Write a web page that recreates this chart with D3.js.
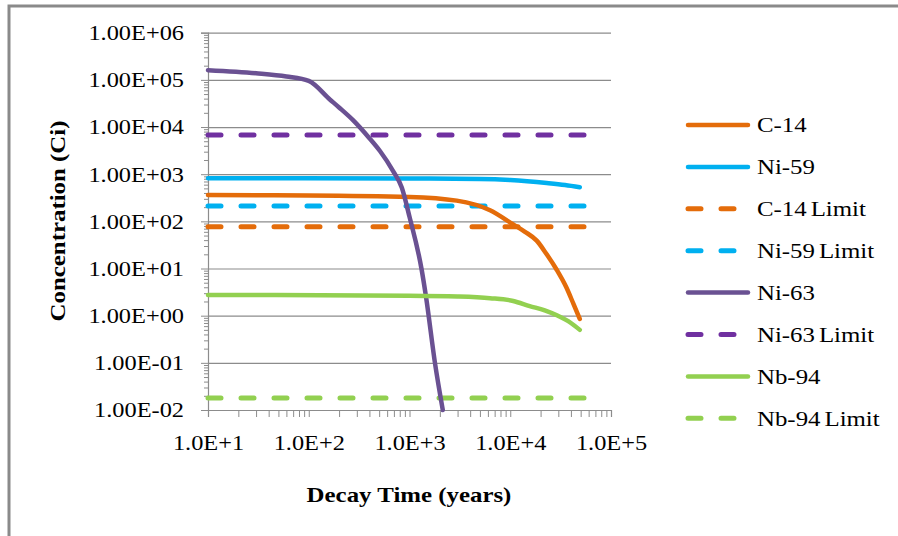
<!DOCTYPE html>
<html>
<head>
<meta charset="utf-8">
<script src="https://cdn.jsdelivr.net/npm/d3@7"></script>
<style>
  html, body { margin: 0; padding: 0; background: #fff; }
  svg { display: block; }
  text { font-family: "Liberation Serif", "Times New Roman", serif; fill: #000; }
</style>
</head>
<body>
<div id="chart"></div>
<script>
// decay curves (years, Ci)
const c14Years = [10, 100, 1000, 2940, 6300, 10700, 14000, 18300, 23000, 29000, 36000, 42300, 49000];
const c14Values = [360, 355, 330, 275, 172, 86, 60, 39, 20, 9.3, 4, 1.8, 0.85];

const ni59Years = [10, 1000, 5000, 10000, 23000, 35000, 49000];
const ni59Values = [820, 810, 790, 750, 650, 590, 530];

const ni63Years = [10, 30, 60, 100, 163, 200, 275, 400, 509, 690, 838, 1000, 1322, 1459, 1791, 2140];
const ni63Values = [160000, 138000, 118000, 95000, 38000, 26000, 14000, 5800, 3100, 1150, 520, 125, 9.3, 2.5, 0.098, 0.01];

const nb94Years = [10, 1000, 3000, 6300, 10700, 15600, 22000, 29000, 40000, 49000];
const nb94Values = [2.75, 2.65, 2.55, 2.35, 2.05, 1.6, 1.3, 1.02, 0.7, 0.5];

// regulatory limits, drawn as flat dashed lines
const limitYears = [10, 65000];
const c14Limit = 77;
const ni59Limit = 212;
const ni63Limit = 6800;
const nb94Limit = 0.018;

const xTicks = [1e1, 1e2, 1e3, 1e4, 1e5];
const xTickLabels = ['1.0E+1', '1.0E+2', '1.0E+3', '1.0E+4', '1.0E+5'];
const yTicks = [1e-2, 1e-1, 1e0, 1e1, 1e2, 1e3, 1e4, 1e5, 1e6];
const yTickLabels = ['1.00E-02', '1.00E-01', '1.00E+00', '1.00E+01', '1.00E+02',
                     '1.00E+03', '1.00E+04', '1.00E+05', '1.00E+06'];

const legendNames = ['C-14', 'Ni-59', 'C-14 Limit', 'Ni-59 Limit', 'Ni-63', 'Ni-63 Limit', 'Nb-94', 'Nb-94 Limit'];

const width = 898;
const height = 536;
const stretch = 1.13;
const tickStretch = 1.16;

const svg = d3.select('#chart').append('svg')
    .attr('width', width)
    .attr('height', height);

svg.append('rect').attr('width', width).attr('height', height).attr('fill', '#fff');
svg.append('rect')
    .attr('x', 9).attr('y', 6)
    .attr('width', 1000).attr('height', 1000)
    .attr('fill', 'none')
    .attr('stroke', '#8a8a8a')
    .attr('stroke-width', 3);

const x = d3.scaleLog().domain([10, 1e5]).range([208, 611]);
const y = d3.scaleLog().domain([0.01, 1e6]).range([410, 32.7]);

const minorOf = domain => {
    const out = [];
    for (let p = Math.log10(domain[0]); p < Math.log10(domain[1]); p++) {
        for (let m = 2; m <= 9; m++) out.push(m * Math.pow(10, p));
    }
    return out;
};

// gridlines
const grid = svg.append('g')
    .attr('transform', `translate(${x.range()[0]},0)`)
    .call(d3.axisLeft(y).tickValues(yTicks).tickSize(-(x.range()[1] - x.range()[0])).tickFormat(''));
grid.select('.domain').remove();
grid.selectAll('line').attr('stroke', '#8c8c8c').attr('stroke-width', 1.2);

// y axis
const yMinor = svg.append('g')
    .attr('transform', `translate(${x.range()[0]},0)`)
    .call(d3.axisLeft(y).tickValues(minorOf(y.domain())).tickSize(4).tickFormat(''));
yMinor.select('.domain').remove();
yMinor.selectAll('line').attr('stroke', '#8c8c8c');

const yAxis = svg.append('g')
    .attr('transform', `translate(${x.range()[0]},0)`)
    .call(d3.axisLeft(y).tickValues(yTicks).tickSize(7)
        .tickFormat((d, i) => yTickLabels[i]));
yAxis.select('.domain').attr('stroke', '#8c8c8c').attr('stroke-width', 1.2);
yAxis.selectAll('line').attr('stroke', '#8c8c8c');
yAxis.selectAll('text')
    .attr('x', -24 / tickStretch)
    .attr('dy', '0.33em')
    .attr('transform', `scale(${tickStretch},1)`)
    .style('font-family', '"Liberation Serif", serif')
    .style('font-size', '21px');

// x axis
const xMinor = svg.append('g')
    .attr('transform', `translate(0,${y.range()[0]})`)
    .call(d3.axisBottom(x).tickValues(minorOf(x.domain())).tickSize(7).tickFormat(''));
xMinor.select('.domain').remove();
xMinor.selectAll('line').attr('stroke', '#8c8c8c');

const xAxis = svg.append('g')
    .attr('transform', `translate(0,${y.range()[0]})`)
    .call(d3.axisBottom(x).tickValues(xTicks).tickSize(7)
        .tickFormat((d, i) => xTickLabels[i]));
xAxis.select('.domain').attr('stroke', '#8c8c8c').attr('stroke-width', 1.2);
xAxis.selectAll('line').attr('stroke', '#8c8c8c');
xAxis.selectAll('text')
    .attr('x', 0)
    .attr('y', 40)
    .attr('dy', 0)
    .attr('transform', `scale(${tickStretch},1)`)
    .style('font-family', '"Liberation Serif", serif')
    .style('font-size', '21px');

// series
const line = d3.line()
    .x(d => x(d[0]))
    .y(d => y(d[1]))
    .curve(d3.curveMonotoneX);

const solidSeries = [
    { name: 'C-14', years: c14Years, values: c14Values, color: '#e46c0a' },
    { name: 'Ni-59', years: ni59Years, values: ni59Values, color: '#00b0f0' },
    { name: 'Ni-63', years: ni63Years, values: ni63Values, color: '#6a5192' },
    { name: 'Nb-94', years: nb94Years, values: nb94Values, color: '#92d050' }
];
const limitSeries = [
    { name: 'C-14 Limit', value: c14Limit, color: '#e46c0a' },
    { name: 'Ni-59 Limit', value: ni59Limit, color: '#00b0f0' },
    { name: 'Ni-63 Limit', value: ni63Limit, color: '#7030a0' },
    { name: 'Nb-94 Limit', value: nb94Limit, color: '#92d050' }
];

svg.selectAll('path.limit')
    .data(limitSeries)
    .enter()
    .append('path')
    .attr('class', 'limit')
    .attr('d', d => line(limitYears.map(t => [t, d.value])))
    .attr('fill', 'none')
    .attr('stroke', d => d.color)
    .attr('stroke-width', 5)
    .attr('stroke-linecap', 'round')
    .attr('stroke-dasharray', '13,20');

svg.selectAll('path.series')
    .data(solidSeries)
    .enter()
    .append('path')
    .attr('class', 'series')
    .attr('d', d => line(d.years.map((t, i) => [t, d.values[i]])))
    .attr('fill', 'none')
    .attr('stroke', d => d.color)
    .attr('stroke-width', 4.5)
    .attr('stroke-linejoin', 'round')
    .attr('stroke-linecap', 'round');

// legend
const allSeries = solidSeries.concat(limitSeries);
const rows = svg.append('g').selectAll('g')
    .data(legendNames)
    .enter()
    .append('g')
    .attr('transform', (d, i) => `translate(688,${125 + i * 41.9})`);

rows.append('line')
    .attr('x1', 0).attr('x2', 60)
    .attr('stroke', d => allSeries.find(s => s.name === d).color)
    .attr('stroke-width', d => d.includes('Limit') ? 5 : 4.5)
    .attr('stroke-linecap', 'round')
    .attr('stroke-dasharray', d => d.includes('Limit') ? '13,20' : null);

rows.append('text')
    .attr('x', 69 / stretch)
    .attr('dy', '0.34em')
    .attr('transform', `scale(${stretch},1)`)
    .attr('font-size', '22px')
    .attr('word-spacing', '-2px')
    .text(d => d);

// axis titles
svg.append('text')
    .attr('transform', `translate(409,502) scale(${stretch},1)`)
    .attr('text-anchor', 'middle')
    .attr('font-size', '22px')
    .attr('font-weight', 'bold')
    .text('Decay Time (years)');

svg.append('text')
    .attr('transform', `translate(65,221) rotate(-90) scale(${stretch},1)`)
    .attr('text-anchor', 'middle')
    .attr('font-size', '22px')
    .attr('font-weight', 'bold')
    .text('Concentration (Ci)');
</script>
</body>
</html>
